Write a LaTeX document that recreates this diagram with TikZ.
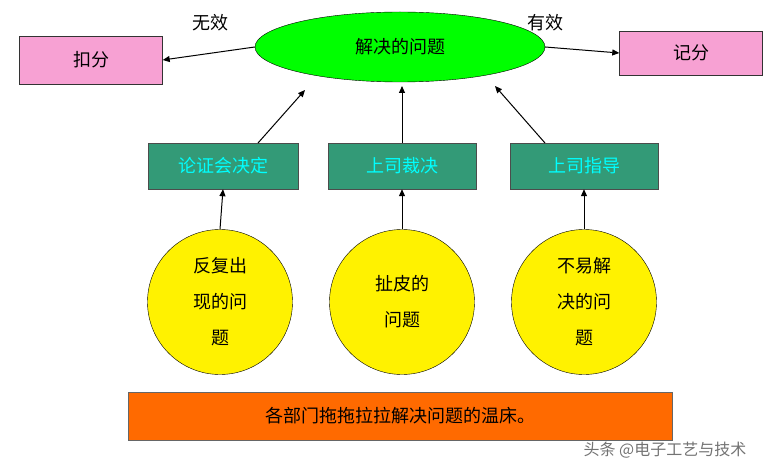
\documentclass[tikz,border=0pt]{standalone}
\usepackage{fontspec}
\setmainfont{Noto Sans CJK SC}
\usetikzlibrary{shapes.geometric,arrows.meta}
\begin{document}
\begin{tikzpicture}[x=1pt,y=-1pt,
 every node/.style={font=\fontsize{18}{22}\selectfont},
 pinkbox/.style={draw=black!80,minimum width=143pt,minimum height=48pt},
 gbox/.style={draw=black!70,text={rgb,255:red,0;green,255;blue,255},minimum width=150pt,minimum height=46pt},
 ball/.style={circle,draw=black,fill=yellow,minimum size=145pt,align=center,font=\fontsize{18}{36}\selectfont},
 arr/.style={-{Triangle[length=7pt,width=6pt]},line width=1pt}]
\useasboundingbox (0,0) rectangle (779,473);
\definecolor{gfill}{HTML}{339A77}\definecolor{pk}{HTML}{F7A1D3}\definecolor{org}{HTML}{FF6A00}
\node[ellipse,draw=black,fill={rgb,255:red,0;green,255;blue,0},minimum width=290pt,minimum height=70pt] (e) at (400,47) {解决的问题};
\node[pinkbox,fill=pk] (kf) at (91,60) {扣分};
\node[pinkbox,fill=pk,minimum height=44pt] (jf) at (691,53) {记分};
\node at (210,23) {无效};
\node at (545,23) {有效};
\draw[arr] (e.west) -- (kf.east);
\draw[arr] (e.east) -- (jf.west);
\node[gbox,fill=gfill] (g1) at (223,166) {论证会决定};
\node[gbox,fill=gfill,minimum width=148pt] (g2) at (402,166) {上司裁决};
\node[gbox,fill=gfill,minimum width=148pt] (g3) at (584,166) {上司指导};
\draw[arr] (258,143) -- (305,90);
\draw[arr] (g2.north) -- (402,86);
\draw[arr] (545,143) -- (495,86);
\node[ball] (c1) at (220,302) {反复出\\现的问\\题};
\node[ball] (c2) at (402,302) {扯皮的\\问题};
\node[ball] (c3) at (584,302) {不易解\\决的问\\题};
\draw[arr] (c1.north) -- (g1.south);
\draw[arr] (c2.north) -- (g2.south);
\draw[arr] (c3.north) -- (g3.south);
\node[draw=black!60,fill=org,minimum width=544pt,minimum height=48pt] (bar) at (400,416) {各部门拖拖拉拉解决问题的温床。};
\node[text=black!55,font=\fontsize{16}{18}\selectfont] (wm) at (665,450) {头条 @电子工艺与技术};
\end{tikzpicture}
\end{document}
